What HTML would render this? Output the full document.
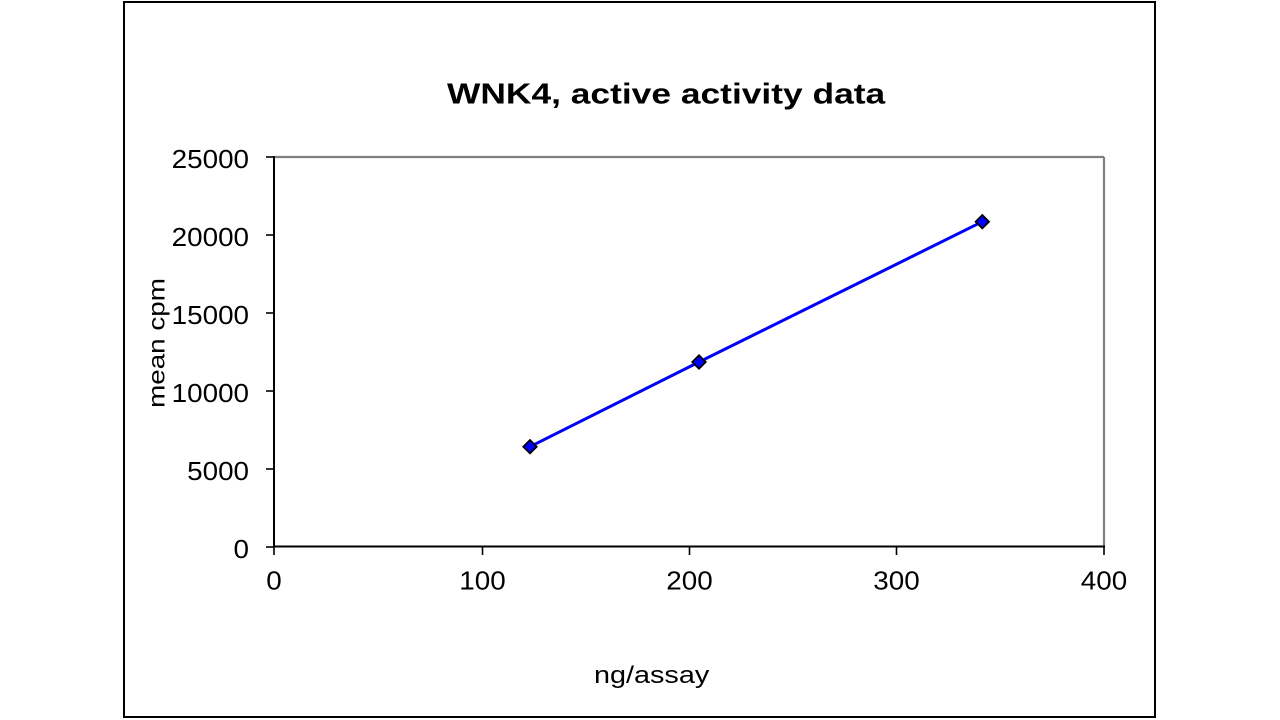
<!DOCTYPE html>
<html>
<head>
<meta charset="utf-8">
<style>
  html, body { margin: 0; padding: 0; background: #ffffff; }
  body { width: 1280px; height: 720px; overflow: hidden; }
  svg { display: block; }
  text { font-family: "Liberation Sans", Arial, sans-serif; fill: #000; }
</style>
</head>
<body>
<svg width="1280" height="720" viewBox="0 0 1280 720" xmlns="http://www.w3.org/2000/svg">
  <rect x="0" y="0" width="1280" height="720" fill="#ffffff"/>
  <!-- outer frame -->
  <rect x="124" y="2" width="1031" height="715" fill="none" stroke="#000" stroke-width="2"/>

  <!-- title -->
  <text transform="translate(447,103.3) scale(1.22,1)" font-size="29" font-weight="bold">WNK4, active activity data</text>

  <!-- plot area border (top/right gray) -->
  <line x1="274" y1="157" x2="1104" y2="157" stroke="#808080" stroke-width="2.2"/>
  <line x1="1104" y1="157" x2="1104" y2="546.5" stroke="#808080" stroke-width="2.2"/>
  <!-- axes -->
  <line x1="274" y1="156" x2="274" y2="547.5" stroke="#000" stroke-width="2"/>
  <line x1="273" y1="546.5" x2="1105" y2="546.5" stroke="#000" stroke-width="2"/>

  <!-- y ticks -->
  <g stroke="#000" stroke-width="1.6">
    <line x1="266" y1="157" x2="274" y2="157"/>
    <line x1="266" y1="235" x2="274" y2="235"/>
    <line x1="266" y1="313" x2="274" y2="313"/>
    <line x1="266" y1="391" x2="274" y2="391"/>
    <line x1="266" y1="469" x2="274" y2="469"/>
    <line x1="266" y1="547" x2="274" y2="547"/>
  </g>
  <!-- x ticks -->
  <g stroke="#000" stroke-width="1.6">
    <line x1="274" y1="546" x2="274" y2="555"/>
    <line x1="482.5" y1="546" x2="482.5" y2="555"/>
    <line x1="689.5" y1="546" x2="689.5" y2="555"/>
    <line x1="896.5" y1="546" x2="896.5" y2="555"/>
    <line x1="1104" y1="546" x2="1104" y2="555"/>
  </g>

  <!-- y tick labels -->
  <g font-size="26" text-anchor="end">
    <text transform="translate(249,168) scale(1.07,1)">25000</text>
    <text transform="translate(249,246) scale(1.07,1)">20000</text>
    <text transform="translate(249,324) scale(1.07,1)">15000</text>
    <text transform="translate(249,402) scale(1.07,1)">10000</text>
    <text transform="translate(249,480) scale(1.07,1)">5000</text>
    <text transform="translate(249,558) scale(1.07,1)">0</text>
  </g>
  <!-- x tick labels -->
  <g font-size="26" text-anchor="middle">
    <text transform="translate(274,589.5) scale(1.07,1)">0</text>
    <text transform="translate(482.5,589.5) scale(1.07,1)">100</text>
    <text transform="translate(689.5,589.5) scale(1.07,1)">200</text>
    <text transform="translate(896.5,589.5) scale(1.07,1)">300</text>
    <text transform="translate(1104,589.5) scale(1.07,1)">400</text>
  </g>

  <!-- axis titles -->
  <text transform="translate(164.5,343) rotate(-90) scale(1.21,1)" font-size="23" text-anchor="middle">mean cpm</text>
  <text transform="translate(594,683) scale(1.2,1)" font-size="24">ng/assay</text>

  <!-- series -->
  <polyline points="530,446.7 699,362 982.3,221.7" fill="none" stroke="#0000ff" stroke-width="3"/>
  <g fill="#0000ff" stroke="#000" stroke-width="1.8">
    <polygon points="530,440 536.7,446.7 530,453.4 523.3,446.7"/>
    <polygon points="699,355.3 705.7,362 699,368.7 692.3,362"/>
    <polygon points="982.3,215 989,221.7 982.3,228.4 975.6,221.7"/>
  </g>
</svg>
</body>
</html>
